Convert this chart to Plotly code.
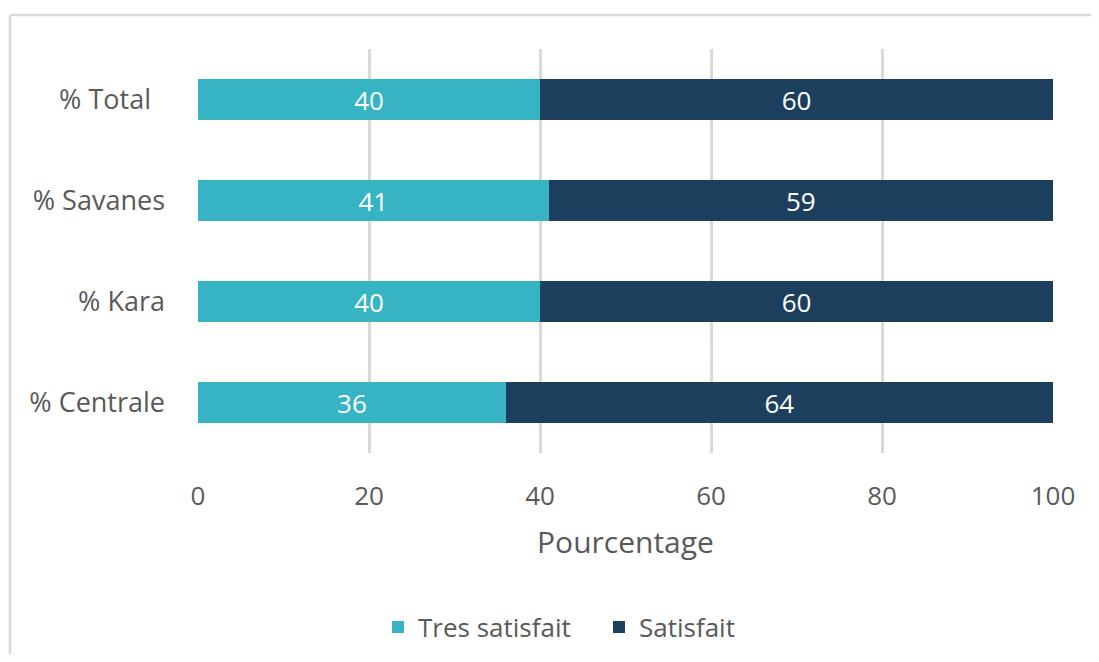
import plotly.graph_objects as go

categories = ["% Total\u00a0\u00a0", "% Savanes", "% Kara", "% Centrale"]
tres_satisfait = [40, 41, 40, 36]
satisfait = [60, 59, 60, 64]
x_ticks = [0, 20, 40, 60, 80, 100]

FONT = "Open Sans"
GREY = "#595959"

fig = go.Figure()
for name, vals, col in [("Tres satisfait", tres_satisfait, "#37B4C4"),
                        ("Satisfait", satisfait, "#1C3F5E")]:
    fig.add_trace(go.Bar(
        y=categories, x=vals, orientation="h", name=name,
        marker=dict(color=col, line=dict(width=0)),
        text=vals, textposition="inside", insidetextanchor="middle",
        textangle=0, constraintext="none",
        textfont=dict(color="white", size=26, family=FONT),
    ))

H = 646
fig.update_layout(
    width=1083, height=H,
    barmode="stack", bargap=0.59,
    margin=dict(l=190, r=38, t=41, b=H - 41 - 404, autoexpand=False),
    paper_bgcolor="white", plot_bgcolor="white",
    font=dict(family=FONT, color=GREY, size=26),
    xaxis=dict(
        range=[0, 100], tickvals=x_ticks, showgrid=True, gridcolor="#d9d9d9",
        gridwidth=2.5, zeroline=False, showline=False,
        tickfont=dict(size=26, color=GREY), ticklabelstandoff=25,
        title=dict(text="Pourcentage", font=dict(size=30, color=GREY), standoff=19),
        fixedrange=True, automargin=False,
    ),
    yaxis=dict(
        categoryorder="array", categoryarray=categories[::-1],
        autorange=False, range=[-0.5, 3.5],
        showgrid=False, zeroline=False, showline=False,
        tickfont=dict(size=27, color=GREY), ticklabelstandoff=32,
        automargin=False,
    ),
    legend=dict(
        orientation="h", x=0.2105, xanchor="left",
        yref="container", y=1 - 619 / H, yanchor="middle",
        font=dict(size=26, color=GREY), traceorder="normal",
        entrywidth=176, entrywidthmode="pixels",
    ),
    showlegend=True,
)

border = dict(color="#d9d9d9", width=2.5)
fig.add_shape(type="line", xref="paper", yref="paper",
              x0=-0.2199, x1=1.3, y0=1.084, y1=1.084, line=border, layer="below")
fig.add_shape(type="line", xref="paper", yref="paper",
              x0=-0.2199, x1=-0.2199, y0=-0.6, y1=1.084, line=border, layer="below")

fig.write_html("out.html")
